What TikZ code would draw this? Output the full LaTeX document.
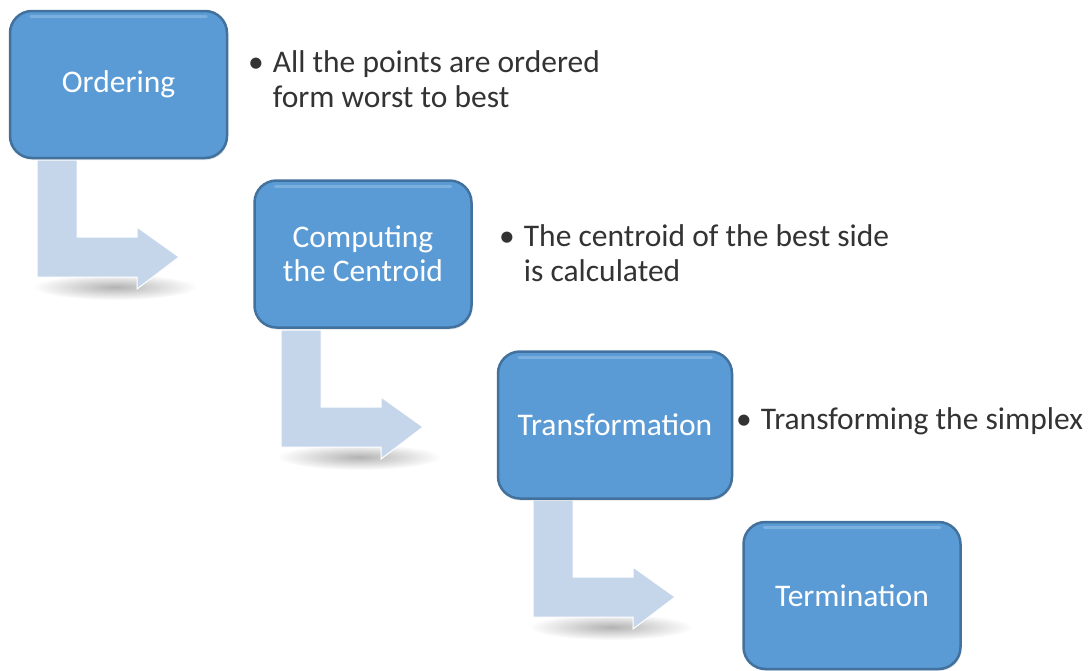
\documentclass[tikz,border=0pt]{standalone}
\usepackage{fontspec}
\setmainfont{Carlito}
\usetikzlibrary{shadows,fadings,calc}
\definecolor{boxblue}{HTML}{5B9BD5}
\definecolor{boxedge}{HTML}{41719C}
\definecolor{arrowblue}{HTML}{C5D5EA}
\definecolor{notegray}{HTML}{333333}
\tikzfading[name=blur, inner color=transparent!70, outer color=transparent!100]
\begin{document}
\begin{tikzpicture}[x=1pt,y=-1pt,
    stage/.style={rectangle, rounded corners=22pt, fill=boxblue, draw=boxedge, line width=2.5pt,
      minimum width=217pt, minimum height=147pt, text=white, align=center,
      font=\fontsize{31.5}{34}\selectfont,
      drop shadow={opacity=0.2, shadow xshift=1pt, shadow yshift=-2pt}},
    note/.style={anchor=west, inner sep=0pt, text=notegray, font=\fontsize{31.5}{35}\selectfont},
    bentarrow/.style={fill=arrowblue, draw=white, line width=1pt}]
  \useasboundingbox (0,0) rectangle (1091,670);
  % bent arrows with their shadows
  \foreach \x/\y in {37/160, 281/330, 533/500} {
    \begin{scope}[shift={(\x,\y)}]
      \fill[black, path fading=blur] (78,127) ellipse (82 and 13);
      \draw[bentarrow] (0,0) -- (40,0) -- (40,77) -- (100,77) -- (100,67) -- (142,97)
        -- (100,129) -- (100,117) -- (0,117) -- cycle;
    \end{scope}
  }
  % stages
  \node[stage] (ord) at (118.5,84.5) {Ordering};
  \node[stage] (cen) at (363,254) {Computing\\the Centroid};
  \node[stage, minimum width=234pt] (tra) at (615,425) {Transformation};
  \node[stage] (ter) at (852,595.5) {Termination};
  \foreach \b in {ord, cen, tra, ter}
    \draw[white, opacity=0.2, line width=3pt, line cap=round]
      ($(\b.north west)+(22,7)$) -- ($(\b.north east)+(-22,7)$);
  % notes
  \node[note] (n1) at (248,83) {\begin{tabular}{@{}l@{\hspace{9pt}}l@{}}•&All the points are ordered\\&form worst to best\end{tabular}};
  \node[note] (n2) at (499,256.5) {\begin{tabular}{@{}l@{\hspace{9pt}}l@{}}•&The centroid of the best side\\&is calculated\end{tabular}};
  \node[note] (n3) at (736,421) {•\hspace{9pt}Transforming the simplex};
\end{tikzpicture}
\end{document}
